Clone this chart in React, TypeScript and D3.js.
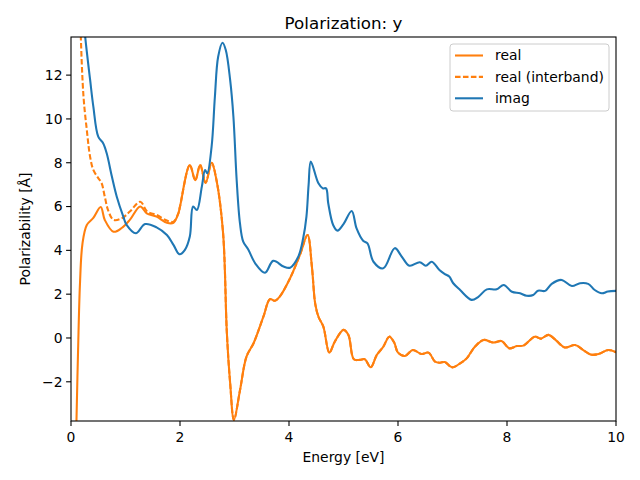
import React from "react";
import * as d3 from "d3";

// ---- data ----
const imagE = [0.20,0.26,0.35,0.41,0.50,0.59,0.655,0.75,0.84,0.96,1.02,1.19,1.36,1.57,1.76,1.88,1.99,2.09,2.18,2.24,2.31,2.40,2.46,2.50,2.58,2.64,2.70,2.78,2.84,2.92,2.98,3.04,3.10,3.16,3.25,3.38,3.56,3.71,3.90,4.02,4.17,4.26,4.32,4.36,4.40,4.54,4.62,4.68,4.72,4.81,4.89,5.00,5.15,5.24,5.36,5.44,5.55,5.73,5.94,6.07,6.21,6.40,6.51,6.62,6.76,6.86,6.94,7.01,7.14,7.35,7.47,7.63,7.81,7.94,8.09,8.24,8.36,8.48,8.57,8.70,8.82,9.00,9.19,9.34,9.49,9.61,9.74,9.85,10.0];
const imagV = [15.5,13.76,11.8,10.56,9.19,8.89,8.43,7.37,6.45,5.54,5.16,4.78,5.2,5.05,4.7,4.25,3.82,4.02,4.63,6.0,5.84,6.9,7.67,7.52,8.74,11.0,12.84,13.48,13.15,11.78,10.1,7.2,5.24,4.4,4.05,3.41,2.98,3.52,3.26,3.21,3.71,4.55,5.54,7.0,8.05,7.06,6.83,6.83,6.15,5.16,4.9,5.2,5.8,5.0,4.44,4.32,3.48,3.18,4.1,3.71,3.3,3.46,3.3,3.48,3.1,2.92,2.81,2.51,2.19,1.74,1.87,2.22,2.22,2.42,2.11,2.04,1.93,1.96,2.16,2.15,2.47,2.65,2.37,2.5,2.47,2.19,2.04,2.12,2.15];

const realE = [0.08,0.10,0.13,0.165,0.21,0.29,0.41,0.545,0.62,0.78,0.93,1.08,1.27,1.39,1.57,1.76,1.88,1.97,2.00,2.18,2.28,2.37,2.47,2.58,2.67,2.79,2.86,2.92,2.99,3.10,3.22,3.35,3.53,3.65,3.74,3.83,4.02,4.20,4.34,4.42,4.48,4.54,4.63,4.74,4.84,5.00,5.09,5.19,5.30,5.39,5.50,5.61,5.73,5.84,5.93,6.00,6.13,6.27,6.43,6.56,6.68,6.77,6.86,6.99,7.14,7.26,7.41,7.57,7.75,7.90,8.04,8.18,8.30,8.51,8.62,8.76,8.88,9.06,9.25,9.40,9.54,9.68,9.86,10.0];
const realV = [-6,-3.8,-0.55,2.5,4.3,5.16,5.48,5.98,5.39,4.85,5.02,5.39,6.0,5.69,5.54,5.26,5.26,5.69,6.0,7.9,7.2,7.9,7.08,8.0,7.2,4.8,0.23,-2.05,-3.74,-2.4,-0.85,-0.24,0.97,1.77,1.7,1.89,2.73,3.79,4.7,3.26,1.58,0.97,0.52,-0.67,-0.17,0.37,0.14,-0.97,-1.0,-0.97,-1.34,-0.78,-0.4,0.06,-0.21,-0.67,-0.82,-0.55,-0.73,-0.67,-1.08,-1.13,-1.1,-1.34,-1.16,-0.93,-0.4,-0.09,-0.21,-0.14,-0.47,-0.37,-0.35,0.06,-0.03,0.14,-0.06,-0.43,-0.32,-0.55,-0.76,-0.73,-0.55,-0.65];

// interband differs from real only below ~1.9 eV; above that it coincides with "real"
const interHeadE = [0.16,0.18,0.23,0.29,0.35,0.41,0.50,0.56,0.62,0.68,0.78,0.93,1.08,1.27,1.40,1.57,1.76,1.88];
const interHeadV = [16,13.76,11.0,9.5,8.28,7.67,7.3,7.08,6.45,5.84,5.39,5.46,5.77,6.22,5.77,5.62,5.36,5.31];

const xTicks = [0, 2, 4, 6, 8, 10];
const yTicks = [-2, 0, 2, 4, 6, 8, 10, 12];
const legendItems = [
  { label: "real", color: "#ff7f0e", dash: "" },
  { label: "real (interband)", color: "#ff7f0e", dash: "5.55,2.4" },
  { label: "imag", color: "#1f77b4", dash: "" },
];

type P = [number, number];
const zip = (a: number[], b: number[]): P[] => a.map((v, i) => [v, b[i]] as P);

export default function App() {
  const W = 640, H = 480;
  const L = 71, R = 616, T = 37, B = 421;
  const x = d3.scaleLinear().domain([0, 10]).range([L, R]);
  const y = d3.scaleLinear().domain([-3.79, 13.74]).range([B, T]);
  const line = d3.line<P>().x(d => x(d[0])).y(d => y(d[1])).curve(d3.curveCatmullRom.alpha(0.5));

  const real = zip(realE, realV);
  const imag = zip(imagE, imagV);
  const inter = zip(interHeadE, interHeadV).concat(real.filter(p => p[0] >= 1.97));

  const font = "'DejaVu Sans', sans-serif";
  const fs = 13.9;

  return (
    <svg width={W} height={H} style={{ display: "block", margin: "-8px" }} fontFamily={font}>
      <rect width={W} height={H} fill="#fff" />
      <defs>
        <clipPath id="ax"><rect x={L} y={T} width={R - L} height={B - T} /></clipPath>
      </defs>
      <g clipPath="url(#ax)" fill="none" strokeWidth={2.08} strokeLinejoin="round">
        <path d={line(real) || ""} stroke="#ff7f0e" />
        <path d={line(inter) || ""} stroke="#ff7f0e" strokeDasharray="5.55,2.4" />
        <path d={line(imag) || ""} stroke="#1f77b4" />
      </g>
      <rect x={L} y={T} width={R - L} height={B - T} fill="none" stroke="#000" strokeWidth={1.1} />
      {xTicks.map(t => (
        <g key={"x" + t}>
          <line x1={x(t)} x2={x(t)} y1={B} y2={B + 4.9} stroke="#000" strokeWidth={1.1} />
          <text x={x(t)} y={B + 21} textAnchor="middle" fontSize={fs}>{t}</text>
        </g>
      ))}
      {yTicks.map(t => (
        <g key={"y" + t}>
          <line x1={L - 4.9} x2={L} y1={y(t)} y2={y(t)} stroke="#000" strokeWidth={1.1} />
          <text x={L - 8.5} y={y(t)} dy="0.35em" textAnchor="end" fontSize={fs}>{t < 0 ? "\u2212" + Math.abs(t) : t}</text>
        </g>
      ))}
      <text x={(L + R) / 2} y={462} textAnchor="middle" fontSize={fs}>Energy [eV]</text>
      <text transform={`translate(30,${(T + B) / 2}) rotate(-90)`} textAnchor="middle" fontSize={fs}>Polarizability [Å]</text>
      <text x={(L + R) / 2} y={29} textAnchor="middle" fontSize={16.7}>Polarization: y</text>
      <g>
        <rect x={450} y={44} width={159} height={67} rx={3} fill="#fff" fillOpacity={0.8} stroke="#cccccc" strokeWidth={1} />
        {legendItems.map((it, i) => {
          const ly = 55.5 + i * 21.4;
          return (
            <g key={it.label}>
              <line x1={455} x2={483} y1={ly} y2={ly} stroke={it.color} strokeWidth={2.08} strokeDasharray={it.dash || undefined} />
              <text x={495} y={ly} dy="0.35em" fontSize={fs}>{it.label}</text>
            </g>
          );
        })}
      </g>
    </svg>
  );
}
